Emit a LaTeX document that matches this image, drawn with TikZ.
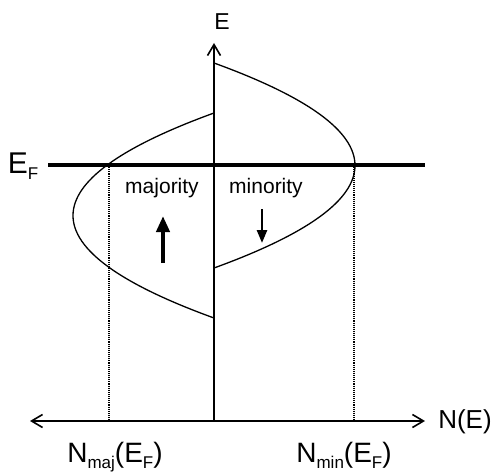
\documentclass[tikz,border=0pt]{standalone}
\usepackage{fontspec}
\setmainfont{Liberation Sans}
\usetikzlibrary{arrows.meta}
\newcommand{\lowtxt}[2]{\raisebox{-0.22em}{\fontsize{#1}{#1}\selectfont #2}}
\tikzset{
  axisline/.style={line width=1.6pt,-{Straight Barb[length=11pt,width=13pt,line width=1.6pt]}},
  axisboth/.style={line width=1.6pt,{Straight Barb[length=11pt,width=13pt,line width=1.6pt]}-{Straight Barb[length=11pt,width=13pt,line width=1.6pt]}},
  dos/.style={line width=1.3pt},
  guide/.style={line width=1.1pt,densely dotted},
  fermi/.style={line width=3.6pt},
  spinup/.style={line width=4pt,-{Triangle[length=16pt,width=13pt]}},
  spindown/.style={line width=2.6pt,-{Triangle[length=13pt,width=10pt]}},
  lbl/.style={inner sep=0pt,anchor=base}
}
\begin{document}
\begin{tikzpicture}[x=1pt,y=-1pt]
\useasboundingbox (0,0) rectangle (497,473);
% coordinates
\coordinate (O) at (214,421);
\coordinate (Etop) at (214,43);
\coordinate (Nleft) at (30,421);
\coordinate (Nright) at (425,421);
\coordinate (EFl) at (48,165);
\coordinate (EFr) at (425,165);
\coordinate (majT) at (214,113);
\coordinate (majB) at (214,318);
\coordinate (minT) at (214,63);
\coordinate (minB) at (214,268);
\coordinate (majF) at (109,165);
\coordinate (majA) at (109,421);
\coordinate (minF) at (354,165);
\coordinate (minA) at (354,421);
\coordinate (upS) at (163,263);
\coordinate (upE) at (163,216);
\coordinate (dnS) at (262,209);
\coordinate (dnE) at (262,243);
% DOS curves
\draw[dos] (majT) .. controls (26,181.3) and (26,249.8) .. (majB);
\draw[dos] (minT) .. controls (402,131.3) and (402,199.7) .. (minB);
% guides
\draw[guide] (majF) -- (majA);
\draw[guide] (minF) -- (minA);
% axes
\draw[axisboth] (Nleft) -- (Nright);
\draw[axisline] (O) -- (Etop);
% Fermi level
\draw[fermi] (EFl) -- (EFr);
% spin arrows
\draw[spinup] (upS) -- (upE);
\draw[spindown] (dnS) -- (dnE);
% labels
\node[lbl] (lE) at (222,30) {\fontsize{23}{26}\selectfont E};
\node[lbl] (lEF) at (23,173) {\fontsize{30}{34}\selectfont E\lowtxt{17}{F}};
\node[lbl] (lNE) at (465,428) {\fontsize{26}{30}\selectfont N(E)};
\node[lbl] (lmaj) at (115,462) {\fontsize{28}{32}\selectfont N\lowtxt{17}{maj}(E\lowtxt{17}{F})};
\node[lbl] (lmin) at (344,462) {\fontsize{28}{32}\selectfont N\lowtxt{17}{min}(E\lowtxt{17}{F})};
\node[lbl] (tmaj) at (162,193) {\fontsize{21}{24}\selectfont majority};
\node[lbl] (tmin) at (266,193) {\fontsize{21}{24}\selectfont minority};
\end{tikzpicture}
\end{document}
